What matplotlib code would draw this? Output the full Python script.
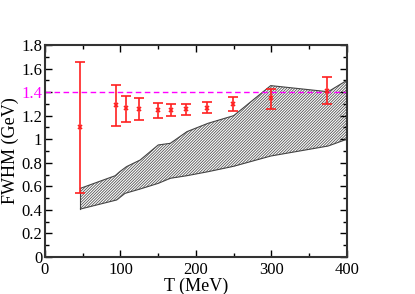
import matplotlib
matplotlib.use("Agg")
import matplotlib.pyplot as plt
from matplotlib.ticker import MultipleLocator
import numpy as np

plt.rcParams['font.family'] = ['Liberation Serif', 'DejaVu Serif']
plt.rcParams['hatch.color'] = '#555555'
plt.rcParams['hatch.linewidth'] = 0.6

# data points with error bars
T_pts = [47, 93.6, 107, 125, 150, 166.5, 187, 214, 249.5, 299, 374]
fwhm = [1.10, 1.288, 1.262, 1.259, 1.25, 1.25, 1.256, 1.268, 1.299, 1.35, 1.412]
err_hi = [1.655, 1.46, 1.37, 1.35, 1.305, 1.30, 1.30, 1.318, 1.356, 1.43, 1.525]
err_lo = [0.54, 1.115, 1.146, 1.163, 1.183, 1.197, 1.203, 1.22, 1.237, 1.259, 1.296]

# shaded band
T_band = [47, 93, 99, 108, 126, 150, 166, 188, 216, 250, 299, 375, 400]
band_upper = [0.583, 0.69, 0.724, 0.767, 0.823, 0.951, 0.965, 1.064, 1.135, 1.20, 1.455, 1.403, 1.50]
T_low = [47, 95, 106, 125, 150, 166, 188, 216, 250, 299, 375, 400]
band_lower = [0.407, 0.484, 0.54, 0.575, 0.625, 0.668, 0.69, 0.724, 0.77, 0.857, 0.942, 1.0]

ref_level = 1.4

fig = plt.figure(figsize=(4.15, 2.94), dpi=100)
ax = fig.add_axes([0.1084, 0.126, 0.7277, 0.721])

xs = sorted(set(T_band) | set(T_low))
up = np.interp(xs, T_band, band_upper)
lo = np.interp(xs, T_low, band_lower)
ax.fill_between(xs, lo, up, facecolor='white', edgecolor='#555555', hatch='////////////', linewidth=0)
ax.plot(xs, up, color='#444444', lw=0.8)
ax.plot(xs, lo, color='#444444', lw=0.8)
ax.plot([xs[0], xs[0]], [lo[0], up[0]], color='#444444', lw=0.8)
ax.plot([xs[-1], xs[-1]], [lo[-1], up[-1]], color='#444444', lw=0.8)

ax.axhline(ref_level, color='#ff00ff', lw=1.0, ls=(0, (4, 2.5)))

yerr = [np.array(fwhm) - np.array(err_lo), np.array(err_hi) - np.array(fwhm)]
ax.errorbar(T_pts, fwhm, yerr=yerr, fmt='x', color='#ff2020', ms=3.5, mew=1.2,
            elinewidth=1.2, capsize=3.5, capthick=1.2)

ax.set_xlim(0, 400)
ax.set_ylim(0, 1.8)
ax.xaxis.set_major_locator(MultipleLocator(100))
ax.xaxis.set_minor_locator(MultipleLocator(50))
ax.yaxis.set_major_locator(MultipleLocator(0.2))
ax.yaxis.set_minor_locator(MultipleLocator(0.1))
ax.tick_params(which='both', direction='in', top=True, right=True, labelsize=12)
ax.tick_params(which='major', length=5, width=1)
ax.tick_params(which='minor', length=3, width=1)
ax.tick_params(axis='y', pad=2)
ax.set_yticks(np.arange(0, 1.81, 0.2))
ax.set_yticklabels(['0', '0.2', '0.4', '0.6', '0.8', '1', '1.2', '1.4', '1.6', '1.8'])
for lab in ax.get_yticklabels():
    if lab.get_text() == '1.4':
        lab.set_color('#ff00ff')
ax.set_xticks([0, 100, 200, 300, 400])
ax.set_xticklabels(['0', '100', '200', '300', '400'])
for s in ax.spines.values():
    s.set_linewidth(1.5)
    s.set_color('#333333')
ax.set_xlabel('T (MeV)', fontsize=13, labelpad=0)
ax.set_ylabel('FWHM (GeV)', fontsize=13)
ax.yaxis.set_label_coords(-0.085, 0.5)

fig.savefig('out.png', dpi=100)
